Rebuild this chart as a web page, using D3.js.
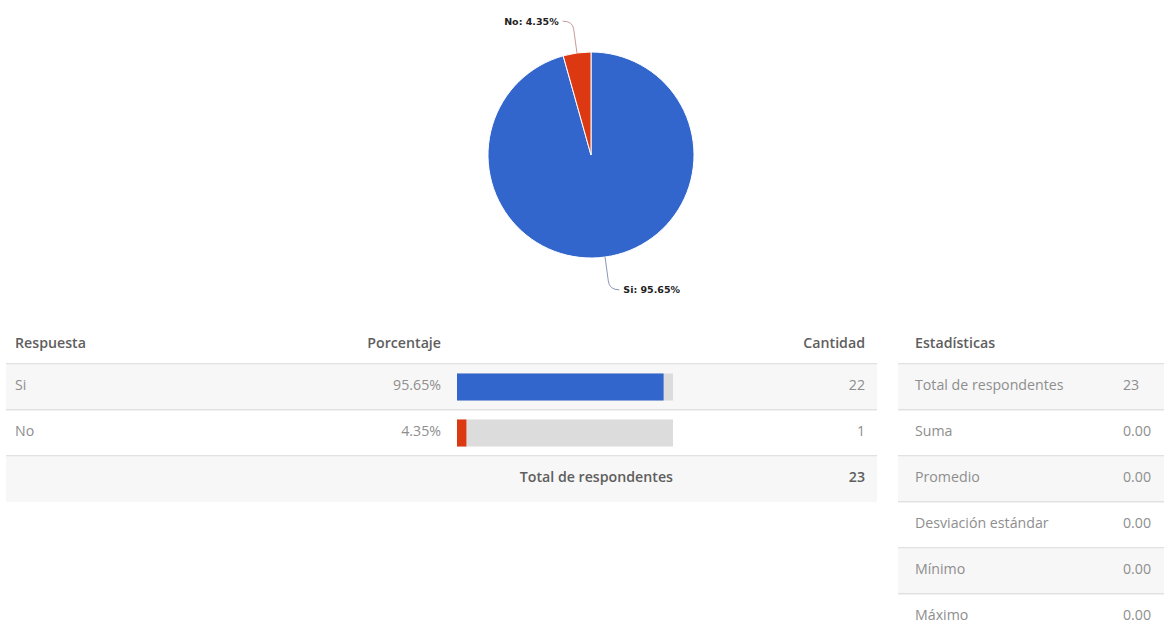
<!DOCTYPE html>
<html>
<head>
<meta charset="utf-8">
<script src="https://cdn.jsdelivr.net/npm/d3@7"></script>
<style>
  html, body { margin: 0; padding: 0; background: #fff; }
  svg { display: block; }
</style>
</head>
<body>
<svg id="chart" width="1164" height="623"></svg>
<script>
// Survey answers
const categories = ["Si", "No"];
const percentages = [95.65, 4.35];
const counts = [22, 1];
const totalLabel = "Total de respondentes";
const total = 23;
const sliceColors = ["#3366cc", "#dc3912"];
const leaderColors = ["#8a96b4", "#c99a9a"];

// Column headings
const headers = ["Respuesta", "Porcentaje", "Cantidad"];
const statsHeader = "Estadísticas";

// Summary statistics
const statsLabels = ["Total de respondentes", "Suma", "Promedio", "Desviación estándar", "Mínimo", "Máximo"];
const statsValues = ["23", "0.00", "0.00", "0.00", "0.00", "0.00"];

const svg = d3.select("#chart");
const FONT = "'Open Sans', 'Noto Sans', sans-serif";
const FS = 14.2;

// ---------- Pie ----------
const cx = 591, cy = 155, R = 103;
const pieData = d3.pie().sort(null).value(d => d.p)(
  categories.map((c, i) => ({ c, p: percentages[i], color: sliceColors[i], lead: leaderColors[i] }))
);
const arc = d3.arc().innerRadius(0).outerRadius(R);
const gPie = svg.append("g").attr("transform", `translate(${cx},${cy})`);
gPie.selectAll("path.slice").data(pieData).join("path")
  .attr("class", "slice")
  .attr("d", arc)
  .attr("fill", d => d.data.color)
  .attr("stroke", "#fff")
  .attr("stroke-width", 1);

// Leader lines and labels
pieData.forEach(d => {
  const a = (d.startAngle + d.endAngle) / 2;
  const sx = Math.sin(a), sy = -Math.cos(a);
  const p0 = [sx * R, sy * R];
  const p1 = [sx * (R + 24), sy * (R + 24)];
  const down = sy > 0;
  const dir = sx >= 0 ? 1 : -1;
  const yEnd = p1[1] + (down ? 9 : -8);
  const corner = [p1[0] + dir * 1, yEnd];
  const end = [corner[0] + dir * 10, yEnd];
  const path = d3.path();
  path.moveTo(p0[0], p0[1]);
  path.lineTo(p1[0], p1[1]);
  path.quadraticCurveTo(corner[0], corner[1], end[0], end[1]);
  gPie.append("path")
    .attr("d", path.toString())
    .attr("fill", "none")
    .attr("stroke", d.data.lead)
    .attr("stroke-width", 1);
  gPie.append("text")
    .attr("x", end[0] + dir * 4)
    .attr("y", yEnd)
    .attr("dy", "0.35em")
    .attr("text-anchor", dir > 0 ? "start" : "end")
    .attr("font-family", "'DejaVu Sans', Verdana, sans-serif")
    .attr("font-weight", "bold")
    .attr("font-size", 9.5)
    .attr("fill", "#222")
    .text(`${d.data.c}: ${d3.format(".2f")(d.data.p)}%`);
});

// ---------- Helpers ----------
function rowBand(g, x0, x1, y0, y1, fill) {
  g.append("rect").attr("x", x0).attr("y", y0).attr("width", x1 - x0).attr("height", y1 - y0).attr("fill", fill);
}
function sep(g, x0, x1, y) {
  g.append("line").attr("x1", x0).attr("x2", x1).attr("y1", y + 0.5).attr("y2", y + 0.5).attr("stroke", "#e1e1e1");
  g.append("line").attr("x1", x0).attr("x2", x1).attr("y1", y + 1.5).attr("y2", y + 1.5).attr("stroke", "#f1f1f1");
}
function txt(g, x, y, s, opts = {}) {
  return g.append("text")
    .attr("x", x).attr("y", y).attr("dy", "0.35em")
    .attr("text-anchor", opts.anchor || "start")
    .attr("font-family", FONT)
    .attr("font-size", opts.size || FS)
    .attr("font-weight", opts.weight || 400)
    .attr("fill", opts.color || "#8e8e8e")
    .text(s);
}

// ---------- Answers table ----------
const tX0 = 6, tX1 = 877;
const colResp = 15, colPct = 441, colCnt = 865;
const headY = 343, headLine = 363;
const rowH = 46, rowTop = 365;
const textOff = 20.5;
const gT = svg.append("g");

// row bands
const bandCount = categories.length + 1;
for (let i = 0; i < bandCount; i++) {
  const y0 = rowTop + i * rowH;
  rowBand(gT, tX0, tX1, y0, y0 + rowH - 1, i % 2 === 0 ? "#f7f7f7" : "#ffffff");
}
sep(gT, tX0, tX1, headLine);
for (let i = 1; i < bandCount; i++) sep(gT, tX0, tX1, rowTop + i * rowH - 2);

const hdr = { weight: 600, color: "#5e5e5e" };
txt(gT, colResp, headY, headers[0], hdr);
txt(gT, colPct, headY, headers[1], { ...hdr, anchor: "end" });
txt(gT, colCnt, headY, headers[2], { ...hdr, anchor: "end" });

// percentage bars
const barX0 = 457, barW = 216, barH = 27;
const xBar = d3.scaleLinear().domain([0, 100]).range([0, barW]);

categories.forEach((c, i) => {
  const yc = rowTop + i * rowH + (rowH - 2) / 2;
  txt(gT, colResp, rowTop + i * rowH + textOff, c);
  txt(gT, colPct, rowTop + i * rowH + textOff, d3.format(".2f")(percentages[i]) + "%", { anchor: "end" });
  txt(gT, colCnt, rowTop + i * rowH + textOff, String(counts[i]), { anchor: "end" });
  gT.append("rect")
    .attr("x", barX0).attr("y", yc - barH / 2)
    .attr("width", xBar(100)).attr("height", barH)
    .attr("fill", "#dcdcdc");
  gT.append("rect")
    .attr("x", barX0).attr("y", yc - barH / 2)
    .attr("width", xBar(percentages[i])).attr("height", barH)
    .attr("fill", sliceColors[i]);
});

// total row
{
  const yc = rowTop + categories.length * rowH + textOff;
  txt(gT, barX0 + barW, yc, totalLabel, { weight: 600, color: "#5e5e5e", anchor: "end" });
  txt(gT, colCnt, yc, String(total), { weight: 600, color: "#5e5e5e", anchor: "end" });
}

// ---------- Statistics table ----------
const sX0 = 898, sX1 = 1164;
const sLabelX = 915, sValX = 1123;
const gS = svg.append("g");
statsLabels.forEach((l, i) => {
  const y0 = rowTop + i * rowH;
  rowBand(gS, sX0, sX1, y0, y0 + rowH - 1, i % 2 === 0 ? "#f7f7f7" : "#ffffff");
});
sep(gS, sX0, sX1, headLine);
for (let i = 1; i < statsLabels.length; i++) sep(gS, sX0, sX1, rowTop + i * rowH - 2);
txt(gS, sLabelX, headY, statsHeader, hdr);
statsLabels.forEach((l, i) => {
  const yc = rowTop + i * rowH + textOff;
  txt(gS, sLabelX, yc, l);
  txt(gS, sValX, yc, statsValues[i]);
});
</script>
</body>
</html>
